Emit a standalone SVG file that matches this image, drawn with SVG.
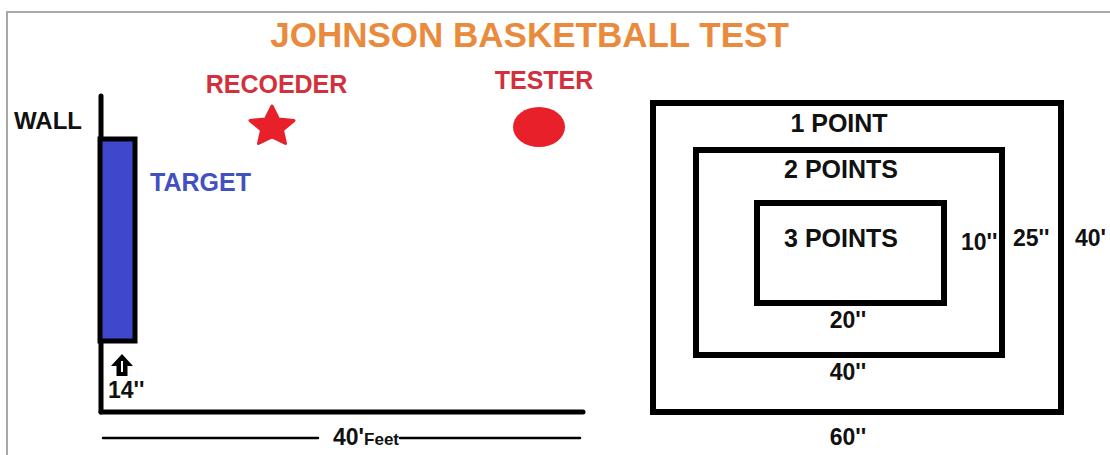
<svg xmlns="http://www.w3.org/2000/svg" width="1110" height="455" viewBox="0 0 1110 455">
<style>
text{font-family:"Liberation Sans",Arial,sans-serif;font-weight:bold;}
.blk{fill:#111;}
.lbl{font-size:25px;fill:#111;}
.num{font-size:23px;fill:#111;}
.red{font-size:25px;fill:#D1303C;}
.box{fill:none;stroke:#000;stroke-width:6;}
.ln{stroke:#000;stroke-linecap:round;}
</style>
<rect x="0" y="0" width="1110" height="455" fill="#fff"/>
<g id="frame">
<path d="M7 455 V12 H1110" fill="none" stroke="#A8A8A8" stroke-width="2"/>
</g>
<g id="title">
<text x="529.5" y="47" text-anchor="middle" font-size="35" fill="#EA8A3C">JOHNSON BASKETBALL TEST</text>
</g>
<g id="recorder">
<text class="red" x="276.5" y="93" text-anchor="middle">RECOEDER</text>
<polygon points="272,106 278.5,118.9 294,120.5 282.5,130.1 285.5,143.5 272,137 258.5,143.5 261.5,130.1 250,120.5 265.5,118.9" fill="#E8202A" stroke="#E8202A" stroke-width="3" stroke-linejoin="round"/>
</g>
<g id="tester">
<text class="red" x="544" y="89" text-anchor="middle">TESTER</text>
<ellipse cx="539" cy="127" rx="26" ry="20" fill="#E8202A"/>
</g>
<g id="wall">
<text class="blk" x="14" y="129" font-size="24">WALL</text>
<line class="ln" x1="101" y1="96" x2="101" y2="412" stroke-width="5"/>
<line class="ln" x1="101" y1="412" x2="583" y2="412" stroke-width="5"/>
</g>
<g id="target">
<rect x="100" y="139" width="35" height="202" fill="#3F48CC" stroke="#000" stroke-width="5"/>
<text x="150" y="191" font-size="25" fill="#4350C0">TARGET</text>
</g>
<g id="height-14">
<polygon points="122,354 133,366 127.5,366 127.5,376 116.5,376 116.5,366 111,366" fill="#000"/>
<line x1="122" y1="361" x2="122" y2="372" stroke="#fff" stroke-width="2"/>
<text class="num" x="108" y="398" font-size="24">14''</text>
</g>
<g id="connectors">
<line class="ln" x1="103" y1="438" x2="318" y2="438" stroke-width="2.5"/>
<line class="ln" x1="400" y1="438" x2="580" y2="438" stroke-width="2.5"/>
<text class="blk" x="333" y="445" font-size="23">40'<tspan font-size="17">Feet</tspan></text>
</g>
<g id="zone-1">
<rect class="box" x="653" y="103" width="408" height="309"/>
<text class="lbl" x="839" y="132" text-anchor="middle">1 POINT</text>
<text class="num" x="848" y="445" text-anchor="middle">60''</text>
<text class="num" x="1075" y="246">40'</text>
</g>
<g id="zone-2">
<rect class="box" x="696" y="150" width="306" height="205"/>
<text class="lbl" x="841" y="178" text-anchor="middle">2 POINTS</text>
<text class="num" x="848" y="380" text-anchor="middle">40''</text>
<text class="num" x="1013" y="246">25''</text>
</g>
<g id="zone-3">
<rect class="box" x="757" y="203" width="187" height="100"/>
<text class="lbl" x="841" y="247" text-anchor="middle">3 POINTS</text>
<text class="num" x="848" y="328" text-anchor="middle">20''</text>
<text class="num" x="961" y="250">10''</text>
</g>
</svg>
